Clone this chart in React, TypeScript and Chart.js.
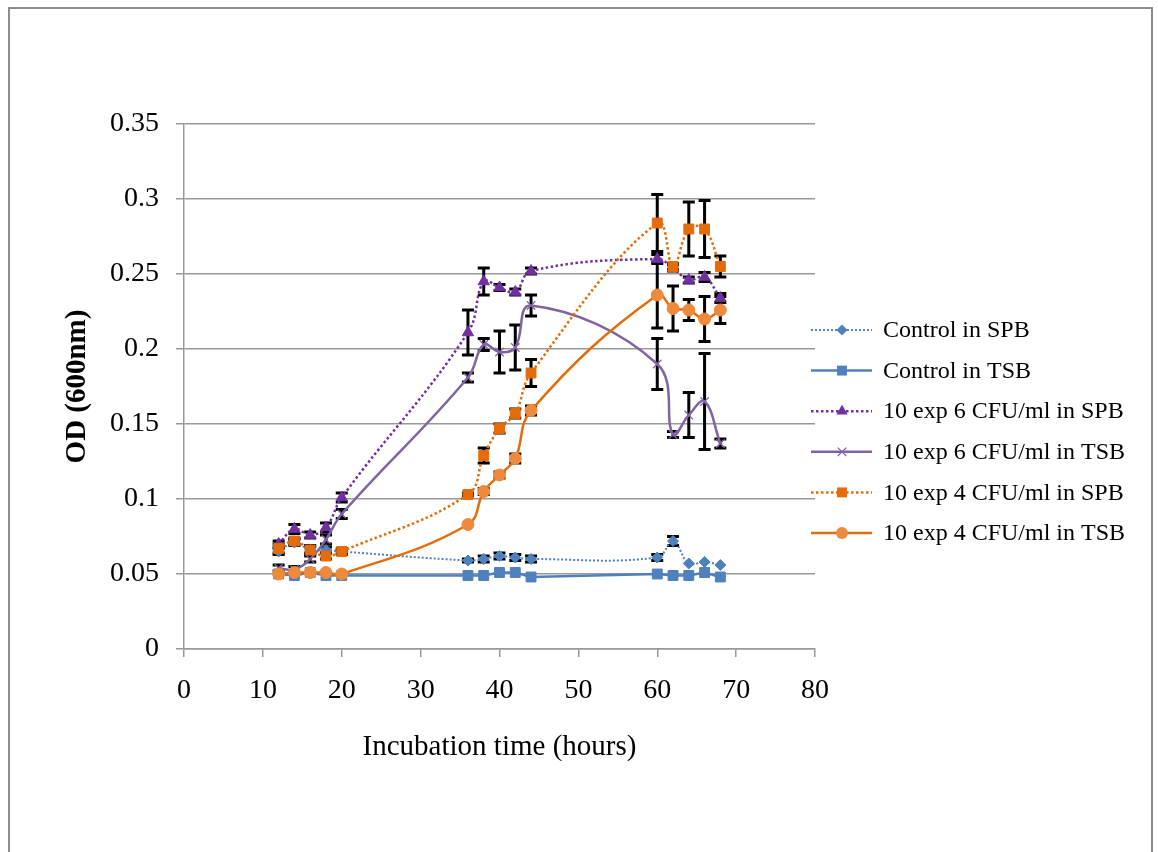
import React, { useEffect, useRef } from "react";
import { Chart, registerables } from "chart.js";

Chart.register(...registerables);

const hours = [12, 14, 16, 18, 20, 36, 38, 40, 42, 44, 60, 62, 64, 66, 68];

const seriesNames = [
  "Control in SPB",
  "Control in TSB",
  "10 exp 6 CFU/ml in SPB",
  "10 exp 6 CFU/ml in TSB",
  "10 exp 4 CFU/ml in SPB",
  "10 exp 4 CFU/ml in TSB",
];

const controlSPB = [0.065, 0.071, 0.066, 0.066, 0.065, 0.059, 0.060, 0.062, 0.061, 0.060, 0.061, 0.072, 0.057, 0.058, 0.056];
const controlSPBErr = [0.002, 0.002, 0.002, 0.002, 0.002, 0.001, 0.002, 0.002, 0.002, 0.002, 0.002, 0.003, 0, 0, 0];

const controlTSB = [0.050, 0.049, 0.051, 0.049, 0.049, 0.049, 0.049, 0.051, 0.051, 0.048, 0.050, 0.049, 0.049, 0.051, 0.048];
const controlTSBErr = [0, 0, 0, 0, 0, 0, 0, 0, 0, 0, 0, 0, 0, 0, 0];

const exp6SPB = [0.070, 0.080, 0.076, 0.081, 0.101, 0.211, 0.245, 0.241, 0.238, 0.252, 0.260, 0.254, 0.246, 0.248, 0.234];
const exp6SPBErr = [0.002, 0.003, 0.002, 0.003, 0.003, 0.015, 0.009, 0.002, 0.002, 0.002, 0.003, 0.002, 0.002, 0.003, 0.003];

const exp6TSB = [0.054, 0.053, 0.060, 0.073, 0.090, 0.181, 0.203, 0.198, 0.201, 0.229, 0.190, 0.143, 0.156, 0.165, 0.137];
const exp6TSBErr = [0.002, 0.002, 0.002, 0.003, 0.003, 0.003, 0.004, 0.014, 0.015, 0.007, 0.017, 0.002, 0.015, 0.032, 0.003];

const exp4SPB = [0.067, 0.072, 0.066, 0.062, 0.065, 0.103, 0.129, 0.147, 0.157, 0.184, 0.284, 0.255, 0.280, 0.280, 0.255];
const exp4SPBErr = [0.003, 0.002, 0.003, 0.002, 0.001, 0.001, 0.005, 0.003, 0.003, 0.009, 0.019, 0.002, 0.018, 0.019, 0.007];

const exp4TSB = [0.050, 0.051, 0.051, 0.051, 0.050, 0.083, 0.105, 0.116, 0.127, 0.159, 0.236, 0.227, 0.226, 0.220, 0.226];
const exp4TSBErr = [0, 0, 0, 0, 0, 0, 0.002, 0.002, 0.003, 0.003, 0.022, 0.015, 0.007, 0.015, 0.009];

const yTickLabels = ["0", "0.05", "0.1", "0.15", "0.2", "0.25", "0.3", "0.35"];
const xTitle = "Incubation time (hours)";
const yTitle = "OD (600nm)";

const FONT = "'Liberation Serif', 'Times New Roman', serif";

type Style = {
  line: string;
  fill: string;
  dash: number[];
  width: number;
  marker: string;
  radius: number;
};

const styles: Style[] = [
  { line: "#4F81BD", fill: "#4F81BD", dash: [2, 2], width: 2, marker: "rectRot", radius: 5.5 },
  { line: "#4F81BD", fill: "#4F81BD", dash: [], width: 2.5, marker: "rect", radius: 7 },
  { line: "#7030A0", fill: "#7030A0", dash: [2.5, 2.5], width: 2.5, marker: "triangle", radius: 6.5 },
  { line: "#8064A2", fill: "#8064A2", dash: [], width: 2.5, marker: "crossRot", radius: 6 },
  { line: "#E46C0A", fill: "#E46C0A", dash: [2.5, 2.5], width: 2.5, marker: "rect", radius: 7 },
  { line: "#E46C0A", fill: "#EE8A3C", dash: [], width: 2.5, marker: "circle", radius: 6 },
];

const values = [controlSPB, controlTSB, exp6SPB, exp6TSB, exp4SPB, exp4TSB];
const errors = [controlSPBErr, controlTSBErr, exp6SPBErr, exp6TSBErr, exp4SPBErr, exp4TSBErr];

function drawMarker(ctx: CanvasRenderingContext2D, s: Style, x: number, y: number) {
  const r = s.radius;
  ctx.save();
  ctx.setLineDash([]);
  ctx.fillStyle = s.fill;
  ctx.strokeStyle = s.fill;
  ctx.lineWidth = 1.2;
  ctx.beginPath();
  if (s.marker === "rectRot") {
    ctx.moveTo(x, y - r);
    ctx.lineTo(x + r, y);
    ctx.lineTo(x, y + r);
    ctx.lineTo(x - r, y);
    ctx.closePath();
    ctx.fill();
  } else if (s.marker === "rect") {
    const h = r * Math.SQRT1_2;
    ctx.rect(x - h, y - h, 2 * h, 2 * h);
    ctx.fill();
  } else if (s.marker === "triangle") {
    ctx.moveTo(x, y - r);
    ctx.lineTo(x + r * 0.866, y + r * 0.5);
    ctx.lineTo(x - r * 0.866, y + r * 0.5);
    ctx.closePath();
    ctx.fill();
  } else if (s.marker === "crossRot") {
    const h = r * Math.SQRT1_2;
    ctx.moveTo(x - h, y - h);
    ctx.lineTo(x + h, y + h);
    ctx.moveTo(x + h, y - h);
    ctx.lineTo(x - h, y + h);
    ctx.stroke();
  } else {
    ctx.arc(x, y, r, 0, Math.PI * 2);
    ctx.fill();
  }
  ctx.restore();
}

const errorBarPlugin = {
  id: "errorBars",
  beforeDatasetsDraw(chart: any) {
    const { ctx, scales } = chart;
    const xs = scales.x;
    const ys = scales.y;
    ctx.save();
    ctx.strokeStyle = "#000";
    ctx.lineWidth = 3;
    ctx.setLineDash([]);
    chart.data.datasets.forEach((ds: any) => {
      const errs: number[] = ds.errorBars || [];
      ds.data.forEach((pt: any, i: number) => {
        const e = errs[i];
        if (!e) return;
        const px = xs.getPixelForValue(pt.x);
        const top = ys.getPixelForValue(pt.y + e);
        const bot = ys.getPixelForValue(pt.y - e);
        ctx.beginPath();
        ctx.moveTo(px, top);
        ctx.lineTo(px, bot);
        ctx.moveTo(px - 6, top);
        ctx.lineTo(px + 6, top);
        ctx.moveTo(px - 6, bot);
        ctx.lineTo(px + 6, bot);
        ctx.stroke();
      });
    });
    ctx.restore();
  },
};

const legendPlugin = {
  id: "customLegend",
  afterDraw(chart: any) {
    const ctx: CanvasRenderingContext2D = chart.ctx;
    ctx.save();
    seriesNames.forEach((name, i) => {
      const s = styles[i];
      const y = 330 + i * 40.6;
      ctx.beginPath();
      ctx.strokeStyle = s.line;
      ctx.lineWidth = s.width;
      ctx.setLineDash(s.dash);
      ctx.moveTo(811, y);
      ctx.lineTo(872, y);
      ctx.stroke();
      drawMarker(ctx, s, 842, y);
      ctx.setLineDash([]);
      ctx.fillStyle = "#000";
      ctx.font = `24px ${FONT}`;
      ctx.textAlign = "left";
      ctx.textBaseline = "middle";
      ctx.fillText(name, 883, y + 1);
    });
    ctx.restore();
  },
};

export default function App() {
  const ref = useRef<HTMLCanvasElement | null>(null);

  useEffect(() => {
    if (!ref.current) return;
    const datasets = values.map((vals, i) => {
      const s = styles[i];
      return {
        label: seriesNames[i],
        data: hours.map((h, j) => ({ x: h, y: vals[j] })),
        errorBars: errors[i],
        borderColor: s.line,
        backgroundColor: s.fill,
        borderWidth: s.width,
        borderDash: s.dash,
        pointStyle: s.marker,
        pointRadius: s.radius,
        pointBorderWidth: s.marker === "crossRot" ? 1.2 : 1,
        pointBackgroundColor: s.fill,
        pointBorderColor: s.fill,
        tension: i === 1 ? 0 : 0.4,
        fill: false,
        order: 10 - i,
      };
    });

    const chart = new Chart(ref.current, {
      type: "line",
      data: { datasets } as any,
      options: {
        animation: false,
        responsive: false,
        devicePixelRatio: 1,
        layout: { padding: { left: 0, top: 124, right: 1158 - 815, bottom: 0 } },
        plugins: {
          legend: { display: false },
          tooltip: { enabled: false },
        },
        scales: {
          x: {
            type: "linear",
            min: 0,
            max: 80,
            ticks: {
              stepSize: 10,
              color: "#000",
              font: { family: FONT, size: 28 },
              padding: 17,
            },
            grid: {
              display: true,
              drawOnChartArea: false,
              drawTicks: true,
              tickLength: 8,
              color: "#999",
              lineWidth: 1.5,
            },
            border: { display: true, color: "#999", width: 1.5 },
            title: {
              display: true,
              text: xTitle,
              color: "#000",
              font: { family: FONT, size: 29 },
              padding: { top: 0, bottom: 87 },
            },
            afterFit: (scale: any) => {
              scale.height = 852 - 649;
            },
          },
          y: {
            type: "linear",
            min: 0,
            max: 0.35,
            ticks: {
              stepSize: 0.05,
              color: "#000",
              font: { family: FONT, size: 28 },
              padding: 17,
              callback: (v: any) => yTickLabels[Math.round(Number(v) / 0.05)],
            },
            grid: {
              display: true,
              drawTicks: true,
              tickLength: 8,
              color: "#999",
              lineWidth: 1.5,
            },
            border: { display: true, color: "#999", width: 1.5 },
            title: {
              display: true,
              text: yTitle,
              color: "#000",
              font: { family: FONT, size: 29, weight: "bold" },
              padding: { top: 60, bottom: 0 },
            },
            afterFit: (scale: any) => {
              scale.width = 184;
            },
          },
        },
      } as any,
      plugins: [errorBarPlugin, legendPlugin],
    });
    return () => chart.destroy();
  }, []);

  return (
    <div style={{ position: "fixed", left: 0, top: 0, width: 1158, height: 852, overflow: "hidden", background: "#fff" }}>
      <div
        style={{
          position: "absolute",
          left: 8,
          top: 7,
          width: 1145,
          height: 900,
          border: "2.5px solid #8c8c8c",
          boxSizing: "border-box",
        }}
      />
      <canvas ref={ref} width={1158} height={852} style={{ position: "absolute", left: 0, top: 0, width: 1158, height: 852 }} />
    </div>
  );
}
